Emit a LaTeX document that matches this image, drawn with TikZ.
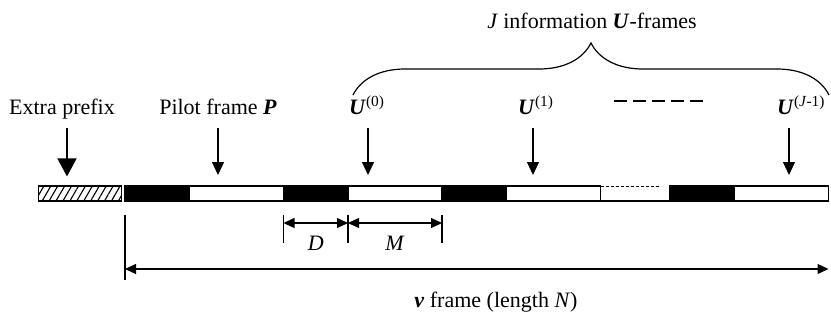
\documentclass[tikz,border=0pt]{standalone}
\usepackage{fontspec}
\setmainfont{Liberation Serif}
\usepackage{tikz}
\usetikzlibrary{arrows.meta, patterns.meta, decorations.pathreplacing, positioning}

\tikzset{
  blk/.style={draw, fill=black, line width=1.2pt, minimum width=64.5pt, minimum height=15pt, inner sep=0pt, outer sep=0pt},
  frm/.style={draw, fill=white, line width=1.2pt, minimum width=94pt, minimum height=15pt, inner sep=0pt, outer sep=0pt},
  lbl/.style={font=\fontsize{22}{26}\selectfont, inner sep=0pt},
  downarrow/.style={line width=1.2pt, -{Triangle[length=13pt, width=12pt]}, shorten >=11pt},
  bigarrow/.style={line width=1.5pt, -{Triangle[length=18pt, width=19pt]}, shorten >=9pt},
  dimarrow/.style={line width=1.2pt, {Triangle[length=11pt, width=10pt]}-{Triangle[length=11pt, width=10pt]}},
  tickln/.style={line width=1.2pt},
}

\begin{document}
\begin{tikzpicture}[x=1pt, y=-1pt]
  \useasboundingbox (0,0) rectangle (831,322);

  % the frame bar
  \node[draw, line width=1.2pt, minimum width=83pt, minimum height=15pt, inner sep=0pt, anchor=west,
        pattern={Lines[angle=60, distance=6pt, line width=1.1pt]}] (pre) at (38,193.5) {};
  \node[blk, anchor=west] (d0) at (125,193.5) {};
  \node[frm, right=0pt of d0] (pf) {};
  \node[blk, right=0pt of pf] (d1) {};
  \node[frm, right=0pt of d1] (f0) {};
  \node[blk, right=0pt of f0] (d2) {};
  \node[frm, right=0pt of d2] (f1) {};
  % gap before the last frame
  \draw[line width=0.8pt, densely dashed] (f1.north east) -- ++(60,0);
  \draw[line width=1.2pt] (f1.south east) -- ++(92,0);
  \node[blk, anchor=west] (d3) at (670,193.5) {};
  \node[frm, right=0pt of d3] (fj) {};

  % labels above the bar
  \node[lbl, anchor=base] (ex) at (62,114) {Extra prefix};
  \node[lbl, anchor=base] (pil) at (218,114) {Pilot frame \textbf{\textit{P}}};
  \node[lbl, anchor=base west] (u0) at (349,114) {\textbf{\textit{U}}\textsuperscript{(0)}};
  \node[lbl, anchor=base west] (u1) at (518,114) {\textbf{\textit{U}}\textsuperscript{(1)}};
  \node[lbl, anchor=base west] (uj) at (777,114) {\textbf{\textit{U}}\textsuperscript{(\textit{J}-1)}};
  \draw[line width=1.5pt, dash pattern=on 13pt off 6pt] (614,101) -- (703,101);

  % arrows down onto the bar
  \coordinate (exa) at (67,128);
  \coordinate (pila) at (218,128);
  \coordinate (u0a) at (368,128);
  \coordinate (u1a) at (533,128);
  \coordinate (uja) at (789,128);
  \draw[bigarrow] (exa) -- (exa |- pre.north);
  \foreach \a in {pila, u0a, u1a, uja}
    \draw[downarrow] (\a) -- (\a |- d0.north);

  % brace over the U-frames
  \coordinate (bl) at (353,95);
  \coordinate (br) at (829,95);
  \draw[line width=1.2pt, decorate, decoration={brace, amplitude=52pt}] (bl) -- (br);
  \node[lbl] (jlab) at (592,21) {\textit{J} information \textbf{\textit{U}}-frames};

  % D and M
  \foreach \n in {d1.south west, f0.south west, f0.south east}
    \draw[tickln] ([yshift=-14pt]\n) -- ++(0,28);
  \draw[dimarrow] ([yshift=-22pt]d1.south west) -- ([yshift=-22pt]f0.south west)
    node[lbl, midway, yshift=-20pt] (dlab) {\textit{D}};
  \draw[dimarrow] ([yshift=-22pt]f0.south west) -- ([yshift=-22pt]f0.south east)
    node[lbl, midway, yshift=-20pt] (mlab) {\textit{M}};

  % whole v frame
  \draw[line width=1.8pt] ([yshift=-14pt]d0.south west) -- ++(0,65);
  \draw[dimarrow] ([yshift=-68pt]d0.south west) -- ([yshift=-68pt]fj.south east);
  \node[lbl] (vlab) at (496,302) {\textbf{\textit{v}} frame (length \textit{N})};
\end{tikzpicture}
\end{document}
